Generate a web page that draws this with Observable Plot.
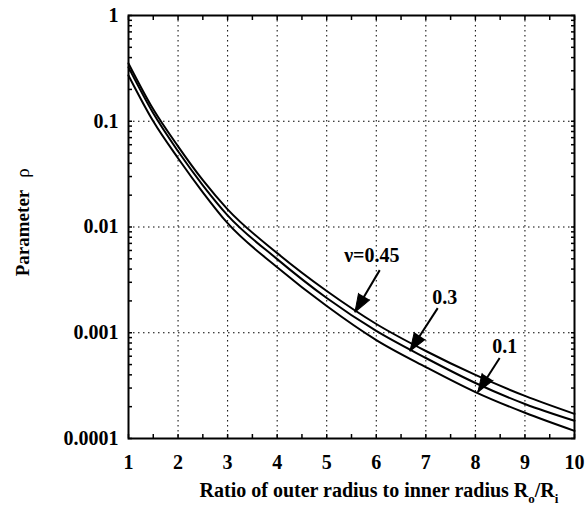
<!DOCTYPE html>
<html>
<head>
<meta charset="utf-8">
<script src="https://cdn.jsdelivr.net/npm/d3@7"></script>
<script src="https://cdn.jsdelivr.net/npm/@observablehq/plot@0.6"></script>
<style>
  body { margin: 0; background: white; }
  #wrap { position: relative; width: 585px; height: 521px; background: white; }
  #xtitle { position: absolute; top: 480px; left: 379px; transform: translateX(-50%);
    white-space: nowrap; font-family: "Liberation Serif", serif; font-weight: bold; font-size: 20px; line-height: 20px; color: black; }
  #xtitle .sub { font-size: 13px; position: relative; top: 6px; }
</style>
</head>
<body>
<div id="wrap">
  <div id="chart"></div>
  <div id="xtitle">Ratio of outer radius to inner radius R<span class="sub">o</span>/R<span class="sub">i</span></div>
</div>
<script>
// ---- data ----
const ratio = [1, 1.5, 2, 2.5, 3, 4, 5, 6, 7, 8, 9, 10];
const rhoNu045 = [0.352, 0.1296, 0.0579, 0.0277, 0.0147, 0.00566, 0.00248, 0.00121, 0.000672, 0.000399, 0.000253, 0.000171];
const rhoNu03  = [0.323, 0.1188, 0.0520, 0.0248, 0.0129, 0.00497, 0.00213, 0.00104, 0.000577, 0.000335, 0.000212, 0.000147];
const rhoNu01  = [0.271, 0.0998, 0.0447, 0.0213, 0.01086, 0.00417, 0.00179, 0.000853, 0.000474, 0.000275, 0.000175, 0.000118];

const xTickLabels = [1, 2, 3, 4, 5, 6, 7, 8, 9, 10];
const yTickLabels = [1, 0.1, 0.01, 0.001, 0.0001];

const labelText = ["\u03bd=0.45", "0.3", "0.1"];
const labelX = [5.91, 7.38, 8.59];
const labelY = [0.00542, 0.00213, 0.000733];
const arrowTailX = [6.07, 7.24, 8.49];
const arrowTailY = [0.00391, 0.00171, 0.000577];
const arrowTipX = [5.57, 6.68, 8.05];
const arrowTipY = [0.00157, 0.000672, 0.000275];

// ---- tables ----
const series = [
  ...ratio.map((r, i) => ({r, rho: rhoNu045[i], nu: "0.45"})),
  ...ratio.map((r, i) => ({r, rho: rhoNu03[i], nu: "0.3"})),
  ...ratio.map((r, i) => ({r, rho: rhoNu01[i], nu: "0.1"}))
];
const labels = labelText.map((t, i) => ({t, x: labelX[i], y: labelY[i]}));
const halfTicks = d3.range(1, 10.01, 0.5);
const minorY = d3.range(-4, 0).flatMap(e => d3.range(1, 10).map(m => m * 10 ** e)).concat([1]);

const font = "Liberation Serif";
const base = {
  width: 585, height: 475,
  marginLeft: 128, marginRight: 11, marginTop: 15, marginBottom: 37,
  x: {domain: [1, 10]},
  y: {type: "log", domain: [1e-4, 1]},
  style: {fontFamily: font, background: "white", color: "black"}
};

const probe = Plot.plot({...base, marks: [Plot.frame()]});
const sx = probe.scale("x"), sy = probe.scale("y");
const arrows = arrowTailX.map((_, i) => {
  const dx = sx.apply(arrowTipX[i]) - sx.apply(arrowTailX[i]);
  const dy = sy.apply(arrowTipY[i]) - sy.apply(arrowTailY[i]);
  return {x1: arrowTailX[i], y1: arrowTailY[i], x2: arrowTipX[i], y2: arrowTipY[i],
          angle: Math.atan2(dx, -dy) * 180 / Math.PI};
});

const grid = {stroke: "black", strokeOpacity: 1, strokeWidth: 1, strokeDasharray: "1.5,3.5"};

const chart = Plot.plot({
  ...base,
  marks: [
    Plot.gridX(xTickLabels, grid),
    Plot.gridY(yTickLabels, grid),
    Plot.axisX({anchor: "bottom", ticks: halfTicks, tickSize: -4, tickFormat: () => "", label: null, strokeWidth: 1.5}),
    Plot.axisX({anchor: "top", ticks: halfTicks, tickSize: -4, tickFormat: () => "", label: null, strokeWidth: 1.5}),
    Plot.axisY({anchor: "left", ticks: minorY, tickSize: -4, tickFormat: () => "", label: null, strokeWidth: 1.5}),
    Plot.axisY({anchor: "right", ticks: minorY, tickSize: -4, tickFormat: () => "", label: null, strokeWidth: 1.5}),
    Plot.axisX({anchor: "bottom", ticks: xTickLabels, tickSize: 0, tickPadding: 16, label: null,
      fontSize: 20, fontWeight: "bold", fontFamily: font}),
    Plot.axisY({anchor: "left", ticks: yTickLabels, tickSize: 0, tickPadding: 10, label: null,
      tickFormat: d => String(d), fontSize: 20, fontWeight: "bold", fontFamily: font}),
    Plot.line(series, {x: "r", y: "rho", z: "nu", stroke: "black", strokeWidth: 2, curve: "monotone-x"}),
    Plot.link(arrows, {x1: "x1", y1: "y1", x2: "x2", y2: "y2", stroke: "black", strokeWidth: 2}),
    Plot.vector(arrows, {x: "x2", y: "y2", rotate: "angle", shape: "spike", anchor: "end",
      length: 18, r: 6.5, fill: "black", stroke: "black", strokeWidth: 1}),
    Plot.text(labels, {x: "x", y: "y", text: "t", fontSize: 20, fontWeight: "bold", fontFamily: font, fill: "black"}),
    Plot.text(["Parameter"], {frameAnchor: "left", dx: -106, dy: 6, rotate: -90, textAnchor: "middle",
      fontSize: 19, fontWeight: "bold", fontFamily: font, fill: "black"}),
    Plot.text(["\u03c1"], {frameAnchor: "left", dx: -106, dy: -54, rotate: -90, textAnchor: "middle",
      fontSize: 19, fontWeight: "normal", fontFamily: font, fill: "black"}),
    Plot.frame({stroke: "black", strokeWidth: 2})
  ]
});
document.getElementById("chart").appendChild(chart);
</script>
</body>
</html>
